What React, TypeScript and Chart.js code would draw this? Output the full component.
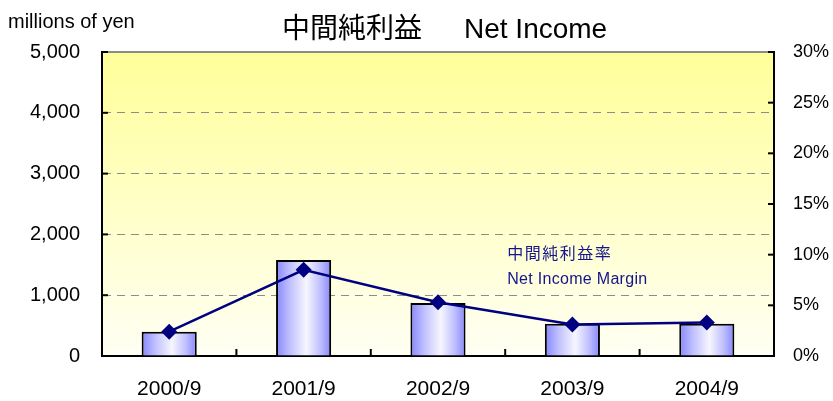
import React, { useEffect, useRef } from "react";
import { Chart, registerables } from "chart.js";

Chart.register(...registerables);

const categories = ["2000/9", "2001/9", "2002/9", "2003/9", "2004/9"];
const netIncome = [400, 1580, 870, 530, 530];
const netIncomeMargin = [2.4, 8.5, 5.3, 3.1, 3.3];
const leftTicks = [0, 1000, 2000, 3000, 4000, 5000];
const rightTicks = [0, 5, 10, 15, 20, 25, 30];

const FONT = "'Liberation Sans', Arial, 'Noto Sans CJK JP', sans-serif";
const BAR_PCT = 0.41;

const decorPlugin = {
  id: "decor",
  beforeDraw(chart: any) {
    const { ctx, chartArea: a } = chart;
    ctx.save();
    const g = ctx.createLinearGradient(0, a.top, 0, a.bottom);
    g.addColorStop(0, "#ffff99");
    g.addColorStop(1, "#fffff4");
    ctx.fillStyle = g;
    ctx.fillRect(a.left, a.top, a.right - a.left, a.bottom - a.top);
    ctx.restore();
  },
  afterDraw(chart: any) {
    const { ctx, chartArea: a, scales } = chart;
    ctx.save();
    ctx.strokeStyle = "#8c8c8c";
    ctx.lineWidth = 2;
    ctx.beginPath();
    ctx.moveTo(a.left, a.top);
    ctx.lineTo(a.right, a.top);
    ctx.stroke();
    ctx.strokeStyle = "#000";
    ctx.lineWidth = 2;
    leftTicks.forEach((v) => {
      const y = scales.y.getPixelForValue(v);
      ctx.beginPath();
      ctx.moveTo(a.left, y);
      ctx.lineTo(a.left + 6, y);
      ctx.stroke();
    });
    rightTicks.forEach((v) => {
      const y = scales.y1.getPixelForValue(v);
      ctx.beginPath();
      ctx.moveTo(a.right - 6, y);
      ctx.lineTo(a.right, y);
      ctx.stroke();
    });
    for (let i = 1; i < categories.length; i++) {
      const x = (scales.x.getPixelForValue(i - 1) + scales.x.getPixelForValue(i)) / 2;
      ctx.beginPath();
      ctx.moveTo(x, a.bottom);
      ctx.lineTo(x, a.bottom - 7);
      ctx.stroke();
    }
    ctx.fillStyle = "#000";
    ctx.textBaseline = "middle";
    ctx.font = `20px ${FONT}`;
    ctx.textAlign = "left";
    ctx.fillText("millions of yen", 8, 22);
    const cx = (a.left + a.right) / 2 + 5;
    ctx.font = `28px ${FONT}`;
    ctx.textAlign = "right";
    ctx.fillText("中間純利益", cx - 21, 30);
    ctx.textAlign = "left";
    ctx.fillText("Net Income", cx + 21, 30);
    ctx.fillStyle = "#14148c";
    ctx.font = `16px ${FONT}`;
    const lx = a.left + (a.right - a.left) * 0.603;
    (ctx as any).letterSpacing = "1.5px";
    ctx.fillText("中間純利益率", lx, a.top + (a.bottom - a.top) * 0.667);
    (ctx as any).letterSpacing = "0.3px";
    ctx.fillText("Net Income Margin", lx, a.top + (a.bottom - a.top) * 0.748);
    ctx.restore();
  },
};

function barGradient(context: any) {
  const chart = context.chart;
  const xs = chart.scales?.x;
  if (!xs || context.type !== "data") return "#c4c4ff";
  const cx = xs.getPixelForValue(context.dataIndex);
  const w = (xs.width / categories.length) * BAR_PCT;
  if (!isFinite(cx) || !isFinite(w) || w <= 0) return "#c4c4ff";
  const g = chart.ctx.createLinearGradient(cx - w / 2, 0, cx + w / 2, 0);
  g.addColorStop(0, "#8686ff");
  g.addColorStop(0.25, "#c0c0ff");
  g.addColorStop(0.55, "#f6f6ff");
  g.addColorStop(0.8, "#c0c0ff");
  g.addColorStop(1, "#8686ff");
  return g;
}

export default function App() {
  const ref = useRef<HTMLCanvasElement>(null);
  useEffect(() => {
    if (!ref.current) return;
    const chart = new Chart(ref.current, {
      type: "bar",
      data: {
        labels: categories,
        datasets: [
          {
            type: "line",
            label: "中間純利益率",
            data: netIncomeMargin,
            yAxisID: "y1",
            borderColor: "#000080",
            backgroundColor: "#000080",
            borderWidth: 2.5,
            pointStyle: "rectRot",
            pointRadius: 8,
            pointBorderWidth: 0,
            tension: 0,
            order: 0,
          } as any,
          {
            type: "bar",
            label: "中間純利益",
            data: netIncome,
            yAxisID: "y",
            backgroundColor: barGradient,
            borderColor: "#000",
            borderWidth: 2,
            categoryPercentage: 1,
            barPercentage: BAR_PCT,
            order: 1,
          } as any,
        ],
      },
      options: {
        animation: false,
        responsive: true,
        maintainAspectRatio: false,
        layout: { padding: { top: 52, left: 0, right: 0, bottom: 0 } },
        plugins: { legend: { display: false }, tooltip: { enabled: false }, title: { display: false } },
        scales: {
          x: {
            offset: true,
            grid: { display: false, drawTicks: false },
            border: { display: true, color: "#000", width: 2 },
            ticks: { color: "#000", font: { size: 21, family: FONT }, padding: 21, maxRotation: 0 },
            afterFit: (s: any) => { s.height = 45; },
          },
          y: {
            position: "left",
            min: 0,
            max: 5000,
            ticks: {
              stepSize: 1000,
              color: "#000",
              font: { size: 20, family: FONT },
              padding: 22,
              callback: (v: any) => Number(v).toLocaleString("en-US"),
            },
            grid: {
              drawTicks: false,
              lineWidth: 1,
              color: (c: any) => (c.tick && (c.tick.value === 0 || c.tick.value === 5000) ? "rgba(0,0,0,0)" : "#8c8c8c"),
            },
            border: { display: true, color: "#000", width: 2, dash: [8, 6] },
            afterFit: (s: any) => { s.width = 102; },
          },
          y1: {
            position: "right",
            min: 0,
            max: 30,
            ticks: {
              stepSize: 5,
              color: "#000",
              font: { size: 18, family: FONT },
              padding: 19,
              callback: (v: any) => `${v}%`,
            },
            grid: { display: false, drawTicks: false },
            border: { display: true, color: "#000", width: 2 },
            afterFit: (s: any) => { s.width = 59; },
          },
        },
      } as any,
      plugins: [decorPlugin],
    });
    return () => chart.destroy();
  }, []);
  return (
    <div style={{ position: "fixed", left: 0, top: 0, width: 833, height: 401, background: "#fff" }}>
      <canvas ref={ref} />
    </div>
  );
}
